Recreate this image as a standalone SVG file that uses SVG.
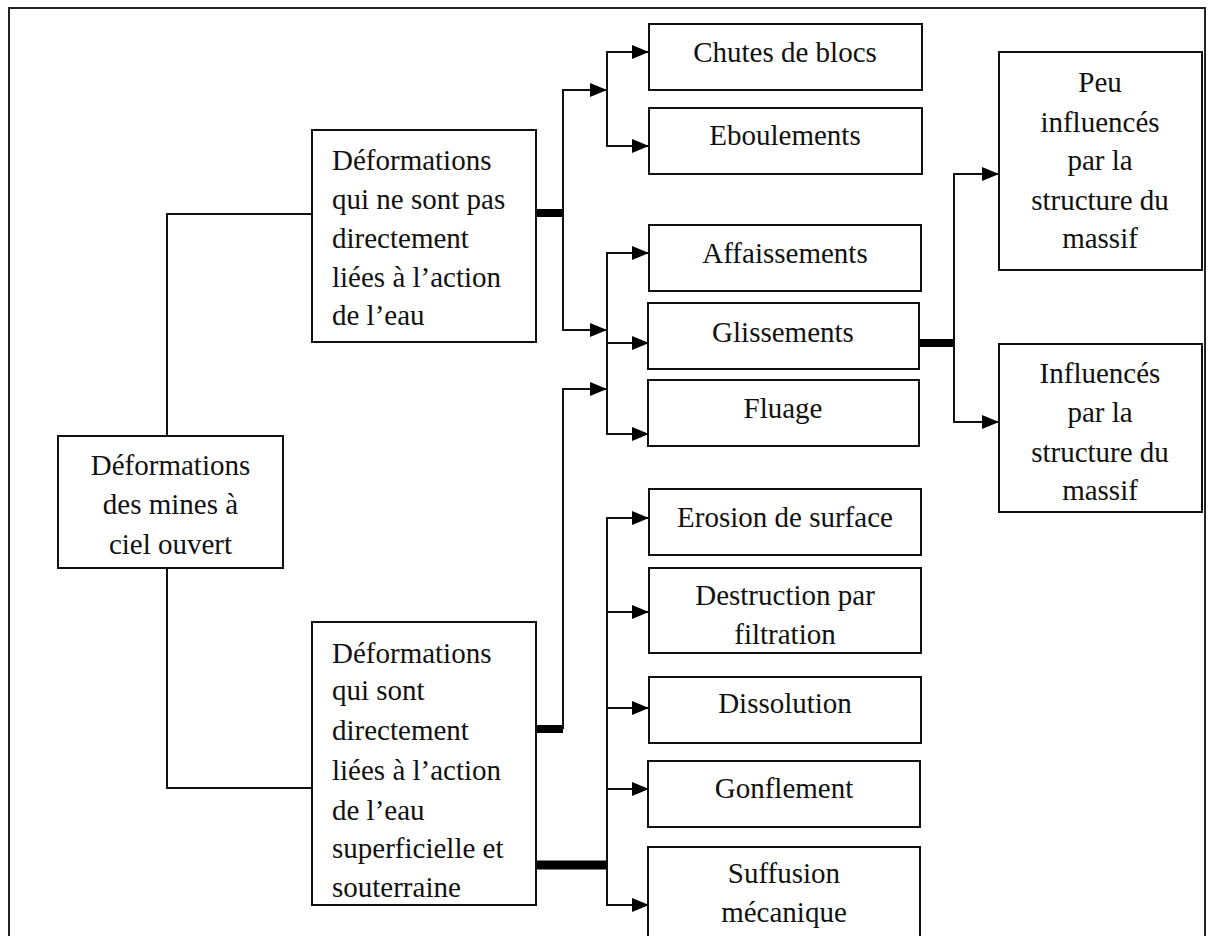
<svg xmlns="http://www.w3.org/2000/svg" width="1208" height="936" viewBox="0 0 1208 936">
<style>
.box{fill:#fff;stroke:#111;stroke-width:2}
.t{font-family:"Liberation Serif","Times New Roman",serif;font-size:29px;fill:#111}
.c{text-anchor:middle}
.ln{fill:none;stroke:#111;stroke-width:2}
.thick{fill:none;stroke:#000;stroke-width:8}
</style>
<defs>
<marker id="ah" markerUnits="userSpaceOnUse" markerWidth="18" markerHeight="16" refX="17" refY="7" orient="auto">
<path d="M0,0 L17,7 L0,14 z" fill="#000"/>
</marker>
</defs>
<rect x="0" y="0" width="1208" height="936" fill="#fff"/>
<rect x="9" y="8" width="1196" height="950" fill="none" stroke="#222" stroke-width="2"/>

<g id="connectors">
<path class="ln" d="M167,436 V214 H312"/>
<path class="ln" d="M167,568 V788 H312"/>
<path class="thick" d="M536,213 H563"/>
<path class="ln" d="M563,213 V90 H607" marker-end="url(#ah)"/>
<path class="ln" d="M563,213 V330 H607" marker-end="url(#ah)"/>
<path class="ln" d="M607,90 V52 H649" marker-end="url(#ah)"/>
<path class="ln" d="M607,90 V146 H649" marker-end="url(#ah)"/>
<path class="ln" d="M607,343 V253 H649" marker-end="url(#ah)"/>
<path class="ln" d="M607,343 H649" marker-end="url(#ah)"/>
<path class="ln" d="M607,343 V434 H649" marker-end="url(#ah)"/>
<path class="thick" d="M536,729 H563"/>
<path class="ln" d="M563,729 V389 H607" marker-end="url(#ah)"/>
<path class="thick" d="M536,865 H607" style="stroke-width:9"/>
<path class="ln" d="M607,865 V518 H649" marker-end="url(#ah)"/>
<path class="ln" d="M607,612 H649" marker-end="url(#ah)"/>
<path class="ln" d="M607,708 H649" marker-end="url(#ah)"/>
<path class="ln" d="M607,789 H649" marker-end="url(#ah)"/>
<path class="ln" d="M607,865 V905 H649" marker-end="url(#ah)"/>
<path class="thick" d="M919,343 H954"/>
<path class="ln" d="M954,343 V174 H999" marker-end="url(#ah)"/>
<path class="ln" d="M954,343 V422 H999" marker-end="url(#ah)"/>
</g>

<g id="root">
<rect class="box" x="58" y="436" width="225" height="132"/>
<text class="t c" x="170.5" y="475">Déformations</text>
<text class="t c" x="170.5" y="514">des mines à</text>
<text class="t c" x="170.5" y="554">ciel ouvert</text>
</g>

<g id="b1">
<rect class="box" x="312" y="130" width="224" height="212"/>
<text class="t" x="332" y="170">Déformations</text>
<text class="t" x="332" y="209">qui ne sont pas</text>
<text class="t" x="332" y="248">directement</text>
<text class="t" x="332" y="287">liées à l’action</text>
<text class="t" x="332" y="325">de l’eau</text>
</g>

<g id="b2">
<rect class="box" x="312" y="622" width="224" height="283"/>
<text class="t" x="332" y="663">Déformations</text>
<text class="t" x="332" y="700">qui sont</text>
<text class="t" x="332" y="740">directement</text>
<text class="t" x="332" y="780">liées à l’action</text>
<text class="t" x="332" y="820">de l’eau</text>
<text class="t" x="332" y="858">superficielle et</text>
<text class="t" x="332" y="897">souterraine</text>
</g>

<g id="chutes">
<rect class="box" x="649" y="24" width="273" height="66"/>
<text class="t c" x="785" y="62">Chutes de blocs</text>
</g>
<g id="eboulements">
<rect class="box" x="649" y="108" width="273" height="66"/>
<text class="t c" x="785" y="145">Eboulements</text>
</g>
<g id="affaissements">
<rect class="box" x="649" y="225" width="272" height="66"/>
<text class="t c" x="785" y="263">Affaissements</text>
</g>
<g id="glissements">
<rect class="box" x="648" y="303" width="271" height="66"/>
<text class="t c" x="783" y="342">Glissements</text>
</g>
<g id="fluage">
<rect class="box" x="648" y="380" width="271" height="66"/>
<text class="t c" x="783" y="418">Fluage</text>
</g>
<g id="erosion">
<rect class="box" x="649" y="489" width="272" height="66"/>
<text class="t c" x="785" y="527">Erosion de surface</text>
</g>
<g id="destruction">
<rect class="box" x="649" y="568" width="272" height="85"/>
<text class="t c" x="785" y="605">Destruction par</text>
<text class="t c" x="785" y="644">filtration</text>
</g>
<g id="dissolution">
<rect class="box" x="649" y="677" width="272" height="66"/>
<text class="t c" x="785" y="713">Dissolution</text>
</g>
<g id="gonflement">
<rect class="box" x="648" y="761" width="272" height="66"/>
<text class="t c" x="784" y="798">Gonflement</text>
</g>
<g id="suffusion">
<rect class="box" x="648" y="847" width="272" height="110"/>
<text class="t c" x="784" y="883">Suffusion</text>
<text class="t c" x="784" y="922">mécanique</text>
</g>

<g id="peu">
<rect class="box" x="999" y="52" width="203" height="218"/>
<text class="t c" x="1100" y="92">Peu</text>
<text class="t c" x="1100" y="132">influencés</text>
<text class="t c" x="1100" y="170">par la</text>
<text class="t c" x="1100" y="210">structure du</text>
<text class="t c" x="1100" y="248">massif</text>
</g>
<g id="influences">
<rect class="box" x="999" y="344" width="203" height="168"/>
<text class="t c" x="1100" y="383">Influencés</text>
<text class="t c" x="1100" y="422">par la</text>
<text class="t c" x="1100" y="462">structure du</text>
<text class="t c" x="1100" y="500">massif</text>
</g>
</svg>
